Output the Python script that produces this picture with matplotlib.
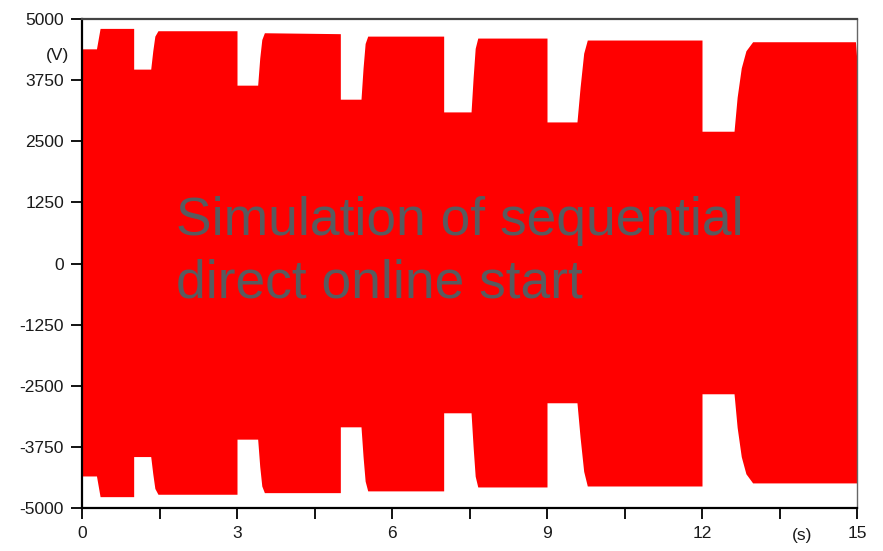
import matplotlib
matplotlib.use("Agg")
import matplotlib.pyplot as plt
import numpy as np

# Envelope of the simulated voltage
time_s = [0.0, 0.28, 0.35, 1.0, 1.0, 1.33, 1.37, 1.41, 1.47,
          3.0, 3.0, 3.40, 3.44, 3.48, 3.53,
          5.0, 5.0, 5.40, 5.44, 5.48, 5.53,
          7.0, 7.0, 7.53, 7.57, 7.61, 7.66,
          9.0, 9.0, 9.58, 9.64, 9.71, 9.78,
          12.0, 12.0, 12.62, 12.68, 12.76, 12.85, 12.98,
          14.97, 15.0]
upper_v = [4390, 4390, 4808, 4808, 3975, 3975, 4350, 4650, 4760,
           4760, 3647, 3647, 4200, 4580, 4719,
           4700, 3360, 3360, 4000, 4500, 4650,
           4650, 3100, 3100, 3800, 4400, 4610,
           4610, 2895, 2895, 3600, 4300, 4570,
           4570, 2705, 2705, 3400, 4000, 4350, 4535,
           4535, 4120]
lower_v = [-4345, -4345, -4768, -4768, -3948, -3948, -4300, -4600, -4719,
           -4719, -3592, -3592, -4150, -4550, -4686,
           -4686, -3340, -3340, -3950, -4450, -4650,
           -4650, -3053, -3053, -3750, -4350, -4570,
           -4570, -2848, -2848, -3550, -4250, -4550,
           -4550, -2664, -2664, -3350, -3950, -4300, -4487,
           -4487, -4487]

x_ticks = [0, 3, 6, 9, 12, 15]
x_minor = [1.5, 4.5, 7.5, 10.5, 13.5]
y_ticks = [-5000, -3750, -2500, -1250, 0, 1250, 2500, 3750, 5000]

W, H = 883, 551
fig = plt.figure(figsize=(W / 100, H / 100), dpi=100)
ax = fig.add_axes([82 / W, (H - 508) / H, (857 - 82) / W, (508 - 19) / H])

ax.fill_between(time_s, lower_v, upper_v, color="#ff0000", linewidth=0)

ax.set_xlim(0, 15)
ax.set_ylim(-5000, 5000)
ax.set_xticks(x_ticks)
ax.set_xticks(x_minor, minor=True)
ax.set_yticks(y_ticks)
ax.set_yticklabels([str(v) for v in y_ticks])
ax.set_xticklabels([str(v) for v in x_ticks])

font = "Liberation Sans"
ax.tick_params(axis="both", which="major", direction="out", length=8, width=1.3,
               color="black", labelsize=12.5, pad=5)
ax.tick_params(axis="x", which="minor", direction="out", length=8, width=1.3, color="black")
for lab in ax.get_xticklabels() + ax.get_yticklabels():
    lab.set_fontfamily(font)
    lab.set_color("#1a1a1a")

for s in ["left", "bottom"]:
    ax.spines[s].set_linewidth(1.6)
    ax.spines[s].set_color("black")
ax.spines["top"].set_linewidth(1.6)
ax.spines["top"].set_color("#444444")
ax.spines["right"].set_linewidth(1.0)
ax.spines["right"].set_color("#666666")

ax.text(-0.016, 4250, "(V)", transform=ax.get_yaxis_transform(), ha="right", va="center",
        fontsize=12.5, family=font, color="#1a1a1a")
ax.text(13.93, -0.057, "(s)", transform=ax.get_xaxis_transform(), ha="center", va="center",
        fontsize=12.5, family=font, color="#1a1a1a")

fig.text(176 / W, (H - 297) / H, "Simulation of sequential\ndirect online start",
         ha="left", va="baseline", fontsize=38.4, family=font, color="#585b5f",
         linespacing=1.31)

fig.savefig("out.png", dpi=100)
